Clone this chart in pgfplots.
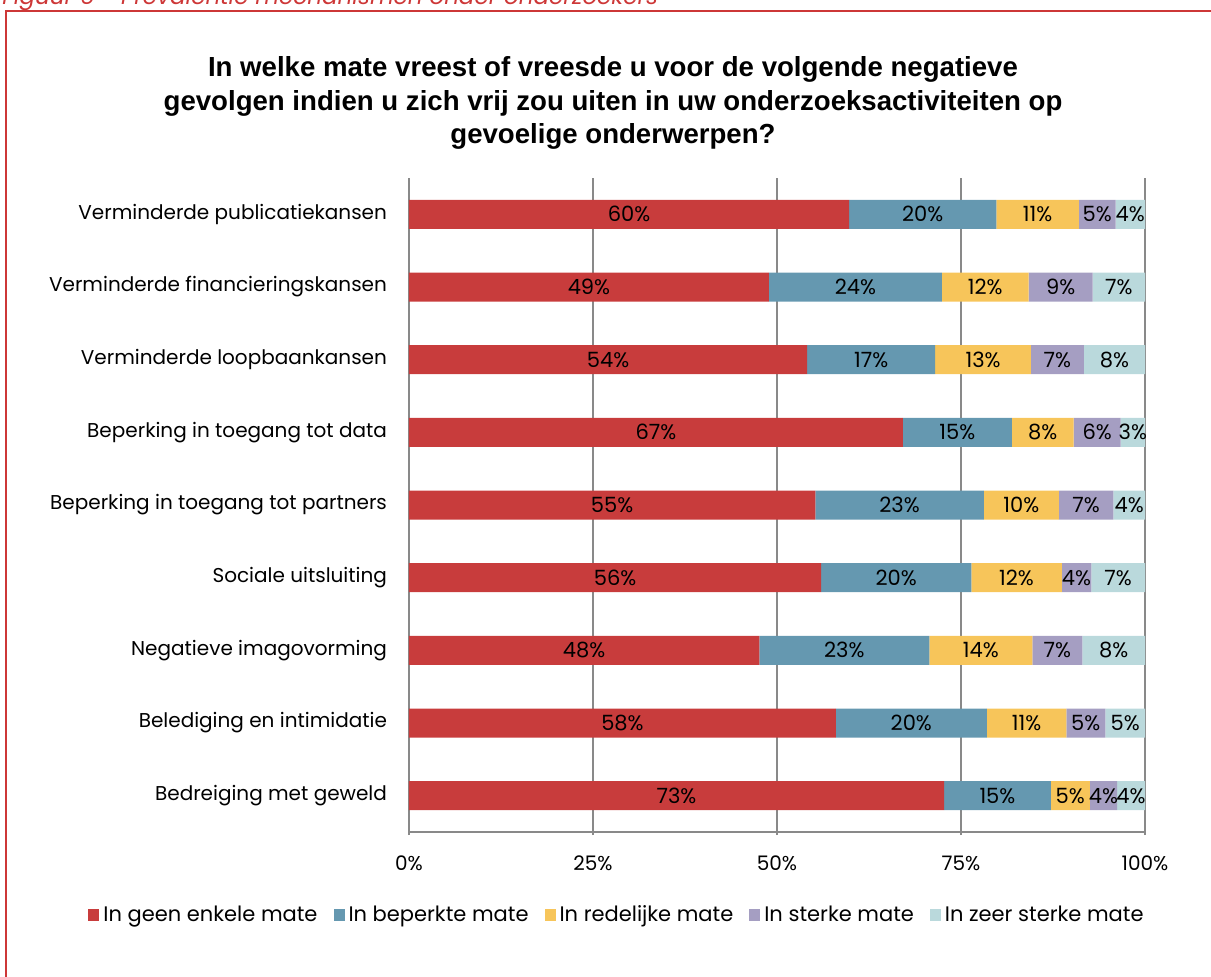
\documentclass[border=0pt]{standalone}
\usepackage{fontspec}
\setmainfont{Poppins}
\newfontfamily\titlefont{Liberation Sans}
\usepackage{pgfplots}
\usepackage{pgfplotstable}
\pgfplotsset{compat=1.18}

\definecolor{cRed}{RGB}{200,60,60}
\definecolor{cBlue}{RGB}{101,152,176}
\definecolor{cYel}{RGB}{247,197,90}
\definecolor{cPur}{RGB}{165,158,194}
\definecolor{cLbl}{RGB}{186,217,220}
\definecolor{frameRed}{RGB}{205,55,55}
\definecolor{gridGray}{RGB}{137,137,137}

% share of respondents per degree of fear, rows top to bottom
\pgfplotstableread{
row a b c d e la lb lc ld le
1 59.8 20.0 11.2 5.0 4.0 60 20 11 5 4
2 48.9 23.5 11.8 8.7 7.1 49 24 12 9 7
3 54.1 17.4 13.0 7.2 8.3 54 17 13 7 8
4 67.1 14.8 8.4 6.4 3.3 67 15 8 6 3
5 55.2 22.9 10.2 7.4 4.3 55 23 10 7 4
6 56.0 20.4 12.3 4.0 7.3 56 20 12 4 7
7 47.6 23.1 14.0 6.8 8.5 48 23 14 7 8
8 58.0 20.5 10.8 5.3 5.4 58 20 11 5 5
9 72.7 14.5 5.3 3.7 3.8 73 15 5 4 4
}\fears

\newcommand{\lblfont}{\fontsize{10}{12}\selectfont}
\newcommand{\barfont}{\fontsize{10.5}{12}\selectfont}

\pgfplotsset{
  seg/.style={fill=#1, draw=none, point meta=explicit},
}

\begin{document}
\begin{tikzpicture}
\path[use as bounding box] (0,0) rectangle (605.5pt,-488pt);
\draw[frameRed, line width=1pt] (3pt,-5.5pt) rectangle (640pt,-520pt);
\node[anchor=base west, text=frameRed, font=\fontsize{11.5}{13}\selectfont\itshape, inner sep=0pt]
  at (1pt,-2pt) {Figuur 6 - Prevalentie mechanismen onder onderzoekers};
\node[align=center, font=\titlefont\bfseries\fontsize{13.8}{16.75}\selectfont]
  at (306.5pt,-51.5pt) {In welke mate vreest of vreesde u voor de volgende negatieve\\
  gevolgen indien u zich vrij zou uiten in uw onderzoeksactiviteiten op\\
  gevoelige onderwerpen?};

\begin{axis}[
  at={(204.5pt,-416pt)}, anchor=south west,
  scale only axis, width=368pt, height=327pt,
  xbar stacked, bar width=14.5pt,
  xmin=0, xmax=100, ymin=0.5, ymax=9.5,
  y dir=reverse,
  axis x line*=bottom, axis y line*=left,
  axis line style={gridGray, line width=0.8pt, -},
  xtick={0,25,50,75,100},
  xticklabels={0\%,25\%,50\%,75\%,100\%},
  xmajorgrids, grid style={gridGray, line width=0.8pt},
  tick align=outside, major tick length=1.5pt,
  x tick style={gridGray, line width=0.8pt},
  ytick={1,...,9}, y tick style={draw=none},
  yticklabels={Verminderde publicatiekansen, Verminderde financieringskansen,
    Verminderde loopbaankansen, Beperking in toegang tot data,
    Beperking in toegang tot partners, Sociale uitsluiting,
    Negatieve imagovorming, Belediging en intimidatie, Bedreiging met geweld},
  ticklabel style={font=\lblfont},
  yticklabel style={xshift=-6pt},
  xticklabel style={yshift=-7pt},
  /pgf/number format/assume math mode=true,
  nodes near coords={\pgfmathprintnumber{\pgfplotspointmeta}\%},
  every node near coord/.append style={anchor=center, font=\barfont, text=black,
    inner sep=0pt},
  legend columns=5,
  legend style={draw=none, font=\barfont, at={(axis description cs:0.284,-0.127)},
    anchor=center, /tikz/every even column/.append style={column sep=6pt}},
  legend image code/.code={\fill[#1] (0pt,-3.2pt) rectangle (5.5pt,3.2pt);},
]
\addplot[seg=cRed] table[x=a, y=row, meta=la] {\fears};
\addplot[seg=cBlue] table[x=b, y=row, meta=lb] {\fears};
\addplot[seg=cYel] table[x=c, y=row, meta=lc] {\fears};
\addplot[seg=cPur] table[x=d, y=row, meta=ld] {\fears};
\addplot[seg=cLbl] table[x=e, y=row, meta=le] {\fears};
\legend{In geen enkele mate, In beperkte mate, In redelijke mate, In sterke mate, In zeer sterke mate}
\end{axis}
\end{tikzpicture}
\end{document}
